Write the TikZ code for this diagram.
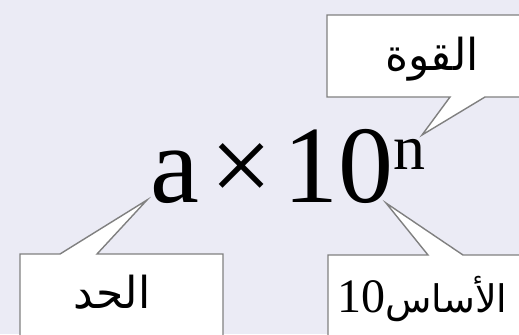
\documentclass[tikz,border=0pt]{standalone}
\usepackage{fontspec}
\setmainfont{Liberation Serif}
\newfontfamily\arabicfont[Script=Arabic]{DejaVu Sans}
\TeXXeTstate=1
\usetikzlibrary{positioning}
\definecolor{bgpanel}{RGB}{235,235,245}
\definecolor{boxline}{RGB}{128,128,128}

\begin{document}
\begin{tikzpicture}[
    x=0.5pt, y=-0.5pt,
    calloutbox/.style={
        draw=boxline,
        fill=white,
        line width=0.7pt,
        line join=miter
    },
    arabictext/.style={
        font=\arabicfont\fontsize{22}{26}\selectfont,
        inner sep=0pt
    },
    formula/.style={
        font=\fontsize{55}{60}\selectfont,
        inner sep=0pt
    }
]

% Background
\fill[bgpanel] (0,0) rectangle (519,334);
\useasboundingbox (0,0) rectangle (519,334);
\clip (0,0) rectangle (519,334);

% Scientific notation
\node[formula, anchor=base west] (expr) at (150,202)
    {a\hspace{0.1em}×\hspace{0.1em}10\raisebox{0.3em}{\fontsize{32}{34}\selectfont n}};

% Pointer tips
\coordinate (tippower) at (422,135);
\coordinate (tipterm) at (147,200);
\coordinate (tipbase) at (386,203);

% Callouts
\draw[calloutbox] (327,15) -- (540,15) -- (540,97) -- (485,97) -- (tippower)
    -- (450,97) -- (327,97) -- cycle;
\draw[calloutbox] (20,254) -- (60,254) -- (tipterm) -- (97,254) -- (223,254)
    -- (223,350) -- (20,350) -- cycle;
\draw[calloutbox] (328,255) -- (428,255) -- (tipbase) -- (463,255) -- (540,255)
    -- (540,350) -- (328,350) -- cycle;

% Labels
\node[arabictext, anchor=base] (power) at (432,70) {\beginR القوة\endR};
\node[arabictext, anchor=base] (term) at (112,308) {\beginR الحد\endR};
\node[arabictext, anchor=base west, font=\arabicfont\fontsize{19}{22}\selectfont]
    (base) at (337,312) {\beginR الأساس\beginL\rmfamily\fontsize{24}{26}\selectfont 10\endL\endR};

\end{tikzpicture}
\end{document}
